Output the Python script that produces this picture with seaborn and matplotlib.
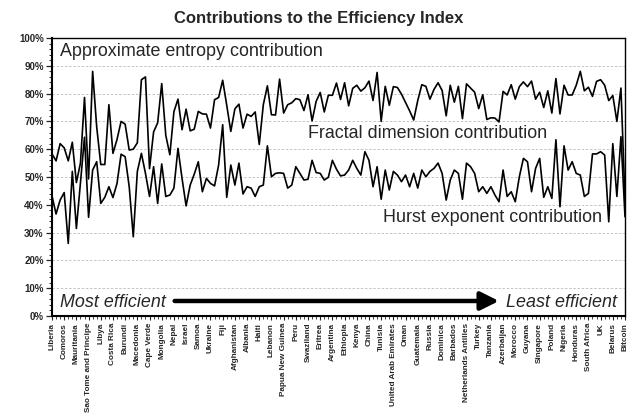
import numpy as np
import pandas as pd
import matplotlib
matplotlib.use("Agg")
import matplotlib.pyplot as plt
import seaborn as sns
from matplotlib.ticker import FixedLocator, MultipleLocator

# ---- data (cumulative shares in %) ----
tick_labels = ["Liberia", "Comoros", "Mauritania", "Sao Tome and Principe", "Libya",
               "Costa Rica", "Burundi", "Macedonia", "Cape Verde", "Mongolia", "Nepal",
               "Israel", "Samoa", "Ukraine", "Fiji", "Afghanistan", "Albania", "Haiti",
               "Lebanon", "Papua New Guinea", "Peru", "Swaziland", "Eritrea", "Argentina",
               "Ethiopia", "Kenya", "China", "Tunisia", "United Arab Emirates", "Oman",
               "Guatemala", "Russia", "Dominica", "Barbados", "Netherlands Antilles",
               "Turkey", "Tanzania", "Azerbaijan", "Morocco", "Guyana", "Singapore",
               "Poland", "Nigeria", "Honduras", "South Africa", "UK", "Belarus", "Bitcoin"]

# upper line: Hurst + fractal dimension contribution (above it: approximate entropy)
upper_line = [
    58.3, 55.8, 62.0, 60.5, 55.8, 62.5, 48.0, 55.0, 78.6, 49.3,
    88.0, 68.0, 54.5, 54.5, 76.0, 58.5, 63.5, 70.0, 69.0, 59.7,
    60.0, 62.3, 85.0, 86.0, 53.0, 66.2, 69.5, 83.6, 65.0, 58.0,
    73.5, 78.0, 67.0, 74.4, 66.6, 67.2, 73.6, 72.7, 72.6, 67.6,
    77.8, 78.6, 84.8, 75.8, 66.4, 74.5, 76.2, 67.6, 72.6, 71.8,
    73.4, 61.7, 76.0, 82.8, 72.4, 72.3, 85.2, 73.0, 76.0, 76.7,
    78.2, 77.8, 73.9, 79.6, 70.2, 77.2, 80.4, 73.4, 79.4, 79.4,
    83.8, 77.9, 83.9, 75.6, 81.9, 83.0, 80.9, 82.1, 84.5, 77.5,
    87.6, 70.0, 82.6, 75.8, 82.5, 82.2, 79.8, 76.8, 73.8, 70.5,
    77.5, 83.2, 82.6, 78.0, 81.5, 83.9, 81.1, 72.0, 83.0, 76.9,
    82.6, 71.0, 83.5, 82.0, 80.5, 74.6, 79.6, 70.7, 71.3, 71.2,
    69.8, 80.8, 79.5, 83.2, 78.0, 82.5, 84.2, 82.5, 84.5, 78.0,
    80.5, 75.0, 81.0, 73.0, 85.4, 72.7, 83.0, 79.5, 79.5, 83.0,
    88.0, 81.0, 82.3, 79.0, 84.4, 85.0, 83.0, 77.5, 79.3, 70.0,
    82.0, 42.0]

# lower line: Hurst exponent contribution
lower_line = [
    43.2, 36.7, 41.7, 44.4, 26.1, 52.0, 31.5, 48.0, 64.3, 35.5,
    52.5, 55.5, 40.5, 42.7, 46.5, 42.6, 47.7, 58.2, 57.3, 46.5,
    28.5, 52.0, 58.5, 51.3, 43.0, 53.7, 40.5, 54.7, 43.0, 43.5,
    46.0, 60.3, 49.5, 39.6, 47.1, 51.0, 55.5, 44.7, 49.5, 47.7,
    46.8, 54.3, 68.8, 42.7, 54.3, 47.1, 55.0, 43.9, 46.5, 46.0,
    43.0, 46.5, 47.1, 61.2, 50.1, 51.3, 51.5, 51.3, 46.0, 47.1,
    53.7, 51.3, 48.9, 49.2, 56.0, 51.6, 51.3, 48.9, 49.9, 56.0,
    52.8, 50.4, 50.7, 52.5, 56.0, 53.1, 50.7, 59.1, 56.0, 46.5,
    53.7, 42.0, 52.5, 45.3, 52.0, 50.7, 48.3, 50.7, 46.5, 51.3,
    46.0, 52.5, 50.1, 52.0, 53.1, 55.0, 51.3, 41.7, 48.9, 52.5,
    51.3, 42.0, 55.0, 53.7, 51.3, 44.7, 46.5, 44.1, 46.5, 43.5,
    41.1, 52.5, 43.0, 44.7, 41.1, 50.1, 56.7, 55.5, 44.7, 53.1,
    56.7, 42.7, 46.5, 42.3, 63.4, 39.3, 61.2, 52.5, 55.5, 51.3,
    50.7, 43.0, 44.1, 58.3, 58.3, 59.1, 57.9, 33.9, 62.0, 43.0,
    64.5, 35.7]

y_ticks = list(range(0, 101, 10))

# ---- styling ----
sns.set_style("ticks")
plt.rcParams['font.family'] = ['Liberation Sans', 'DejaVu Sans']

n = len(upper_line)
df = pd.DataFrame({"idx": np.arange(n), "upper": upper_line, "lower": lower_line})
long_df = df.melt(id_vars="idx", var_name="series", value_name="value")

fig = plt.figure(figsize=(6.38, 4.18), dpi=100)
ax = fig.add_axes([52 / 638, 102 / 418, 573 / 638, 278 / 418])

sns.lineplot(data=long_df, x="idx", y="value", hue="series",
             palette={"upper": "black", "lower": "black"}, legend=False,
             estimator=None, linewidth=1.2, ax=ax)

ax.set_xlim(0, n - 1)
ax.set_ylim(0, 100)
ax.set_xlabel("")
ax.set_ylabel("")

# y axis
ax.set_yticks(y_ticks)
ax.set_yticklabels([f"{v}%" for v in y_ticks], fontsize=7, fontweight="bold")
ax.yaxis.set_minor_locator(MultipleLocator(2))
ax.tick_params(axis="y", which="major", direction="out", length=4, width=0.9, pad=2)
ax.tick_params(axis="y", which="minor", direction="out", length=2.2, width=0.7)
ax.yaxis.grid(True, which="major", linestyle=(0, (3, 2)), color="#bdbdbd", linewidth=0.6)
ax.set_axisbelow(True)

# x axis
pos = list(range(0, n, 3))
ax.xaxis.set_major_locator(FixedLocator(pos))
ax.set_xticklabels(tick_labels, rotation=90, fontsize=5.9, fontweight="bold",
                   ha="center", va="top")
ax.xaxis.set_minor_locator(FixedLocator(list(range(n))))
ax.tick_params(axis="x", which="major", direction="out", length=3, width=0.8, pad=2)
ax.tick_params(axis="x", which="minor", direction="out", length=2, width=0.6)

for s in ax.spines.values():
    s.set_visible(True)
    s.set_color("black")
    s.set_linewidth(1.0)
ax.spines["left"].set_linewidth(1.5)
ax.spines["bottom"].set_linewidth(1.5)

# annotations
fs = 12.9
ax.text(0.014, 0.95, "Approximate entropy contribution", transform=ax.transAxes,
        fontsize=fs, ha="left", va="center")
ax.text(0.447, 0.655, "Fractal dimension contribution", transform=ax.transAxes,
        fontsize=fs, ha="left", va="center")
ax.text(0.578, 0.353, "Hurst exponent contribution", transform=ax.transAxes,
        fontsize=fs, ha="left", va="center")
ax.text(0.014, 0.05, "Most efficient", transform=ax.transAxes,
        fontsize=fs, style="italic", ha="left", va="center")
ax.text(0.986, 0.05, "Least efficient", transform=ax.transAxes,
        fontsize=fs, style="italic", ha="right", va="center")
ax.annotate("", xy=(0.78, 0.054), xytext=(0.214, 0.054), xycoords="axes fraction",
            arrowprops=dict(arrowstyle="-|>,head_length=1.1,head_width=0.55",
                            lw=3.2, color="black", shrinkA=0, shrinkB=0))

fig.text(0.5, 1 - 18 / 418, "Contributions to the Efficiency Index",
         ha="center", va="center", fontsize=12, fontweight="bold")

fig.savefig("out.png", dpi=100)
